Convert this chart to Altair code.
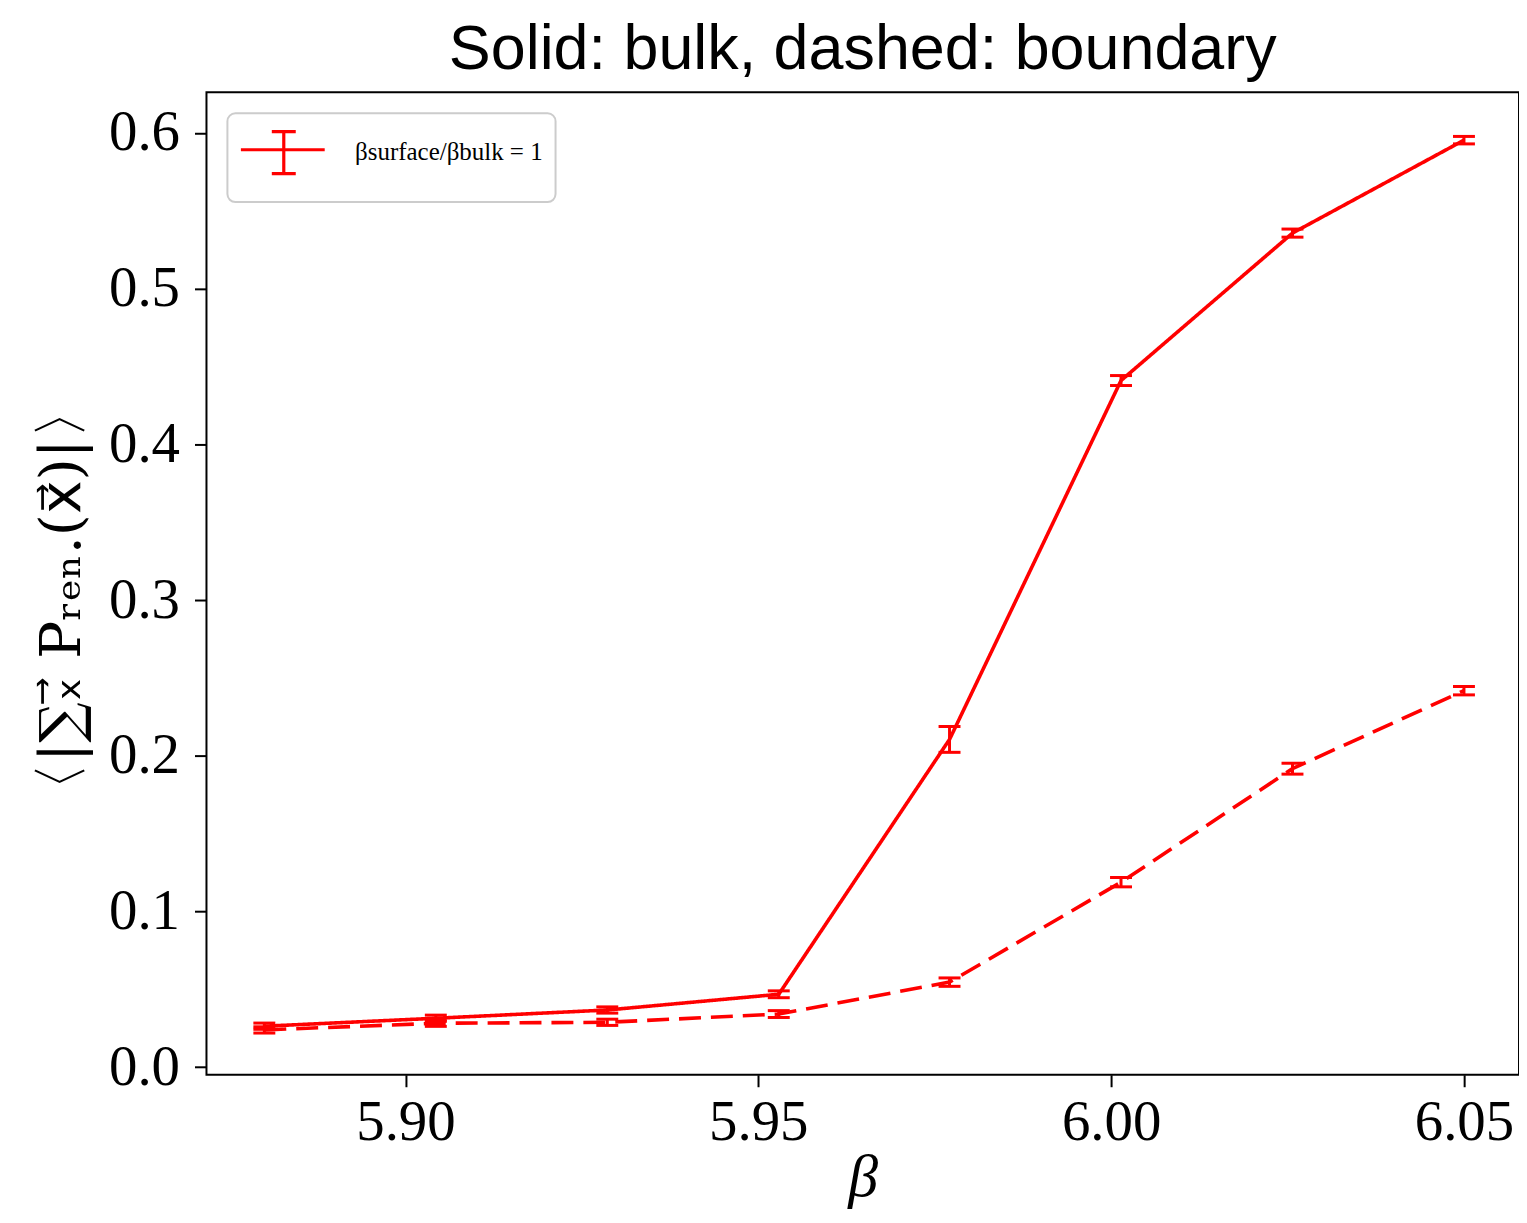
import altair as alt
import pandas as pd

# ---- data ----
beta = [5.88, 5.9043, 5.9286, 5.9529, 5.9771, 6.0014, 6.0257, 6.05]
bulk = [0.0263, 0.0314, 0.0367, 0.0468, 0.2105, 0.4410, 0.5357, 0.5954]
bulk_err = [0.0020, 0.0020, 0.0020, 0.0022, 0.0083, 0.0032, 0.0026, 0.0024]
boundary = [0.0239, 0.0282, 0.0288, 0.0341, 0.0546, 0.1188, 0.1917, 0.2418]
boundary_err = [0.0020, 0.0020, 0.0020, 0.0022, 0.0027, 0.0030, 0.0035, 0.0027]
region_names = ["bulk", "boundary"]
legend_label = "βsurface/βbulk = 1"
x_ticks = [5.90, 5.95, 6.00, 6.05]
y_ticks = [0.0, 0.1, 0.2, 0.3, 0.4, 0.5, 0.6]

rows = []
for reg, vals, errs in zip(region_names, [bulk, boundary], [bulk_err, boundary_err]):
    for b, v, e in zip(beta, vals, errs):
        rows.append({"beta": b, "value": v, "err": e, "region": reg, "label": legend_label})
df = pd.DataFrame(rows)

RED = "#ff0000"
SERIF = "Liberation Serif"

x_scale = alt.Scale(domain=[5.8718, 6.0578], nice=False, zero=False)
y_scale = alt.Scale(domain=[-0.0049, 0.6261], nice=False, zero=False)

x_axis = alt.Axis(
    values=x_ticks, format=".2f", title="β", grid=False, domain=False,
    labelFont=SERIF, labelFontSize=57, labelColor="black", labelPadding=8,
    tickColor="black", tickWidth=2, tickSize=12,
    titleFont=SERIF, titleFontSize=60, titleFontStyle="italic", titleFontWeight="normal",
    titleColor="black", titleBaseline="alphabetic", titleY=121,
)
y_axis = alt.Axis(
    values=y_ticks, format=".1f", title="〈|∑ₓ⃗ Pᵣₑₙ.(x⃗)|〉", grid=False, domain=False,
    labelFont=SERIF, labelFontSize=57, labelColor="black", labelPadding=15,
    tickColor="black", tickWidth=2, tickSize=12,
    titleFont="DejaVu Serif, DejaVu Sans, Liberation Serif", titleFontSize=57,
    titleFontWeight="normal", titleColor="black",
    titleAngle=270, titleBaseline="alphabetic", titleX=-127, titleY=509,
)

# errorbar-like legend glyph (units of 24.5 px); trailing moveto only pads the box
legend_path = (
    "M-1.02,-0.08H2.41M0.735,-0.82V0.9"
    "M0.245,-0.82H1.225M0.245,0.9H1.225M0.735,1.29"
)

base = alt.Chart(df)

line = base.mark_line(strokeWidth=3.6, clip=True).encode(
    x=alt.X("beta:Q", scale=x_scale, axis=x_axis),
    y=alt.Y("value:Q", scale=y_scale, axis=y_axis),
    color=alt.Color(
        "label:N",
        scale=alt.Scale(domain=[legend_label], range=[RED]),
        legend=alt.Legend(
            title=None, orient="top-left", offset=21,
            fillColor="white", strokeColor="#cccccc",
            symbolType=legend_path, symbolSize=49 * 49, symbolStrokeWidth=3.2,
            labelFont=SERIF, labelFontSize=25, labelColor="black", labelOffset=63,
            labelLimit=0,
        ),
    ),
    strokeDash=alt.StrokeDash(
        "region:N",
        scale=alt.Scale(domain=region_names, range=[[1, 0], [22, 10]]),
        legend=None,
    ),
    detail="region:N",
)

err_base = base.transform_calculate(
    lo="datum.value - datum.err", hi="datum.value + datum.err"
)
bars = err_base.mark_rule(strokeWidth=3, color=RED, opacity=1).encode(
    x="beta:Q", y="lo:Q", y2="hi:Q"
)
cap_lo = err_base.mark_tick(
    orient="horizontal", size=22, thickness=3, color=RED, opacity=1
).encode(x="beta:Q", y="lo:Q")
cap_hi = err_base.mark_tick(
    orient="horizontal", size=22, thickness=3, color=RED, opacity=1
).encode(x="beta:Q", y="hi:Q")

chart = (
    alt.layer(line, bars, cap_lo, cap_hi)
    .properties(
        width=1316,
        height=985,
        title=alt.TitleParams(
            "Solid: bulk, dashed: boundary", font="Liberation Sans", fontSize=63,
            fontWeight="normal", color="black", anchor="middle", frame="group",
            baseline="alphabetic", offset=21, dy=61,
        ),
        padding={"left": 199, "top": 83, "right": 0, "bottom": 134},
        autosize=alt.AutoSizeParams(type="none"),
        background="white",
    )
    .configure_view(stroke="black", strokeWidth=2)
    .configure_legend(strokeWidth=2, cornerRadius=8, padding=12)
)

chart.save("out.html", embed_options={"renderer": "svg", "actions": False})
